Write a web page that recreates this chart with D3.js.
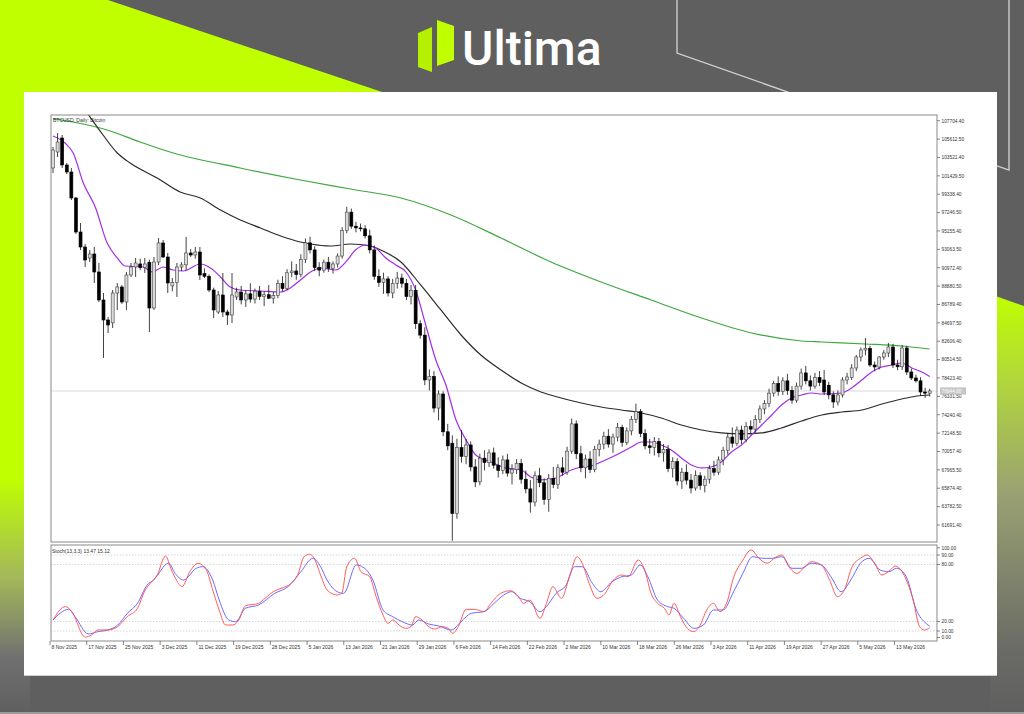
<!DOCTYPE html>
<html>
<head>
<meta charset="utf-8">
<title>BTCUSD Daily - Ultima</title>
<script src="https://d3js.org/d3.v7.min.js"></script>
<style>
body { margin: 0; background: #5f5f5f; }
svg { display: block; }
.mt text { font-family: 'Liberation Sans', Arial, sans-serif; fill: #333; }
</style>
</head>
<body>
<div id="viz"></div>
<script>
'use strict';

// x axis labels and the bar each one sits on
const xLabels = ['8 Nov 2025', '17 Nov 2025', '25 Nov 2025', '3 Dec 2025', '11 Dec 2025', '19 Dec 2025',
  '28 Dec 2025', '5 Jan 2026', '13 Jan 2026', '21 Jan 2026', '29 Jan 2026', '6 Feb 2026', '14 Feb 2026',
  '22 Feb 2026', '2 Mar 2026', '10 Mar 2026', '18 Mar 2026', '26 Mar 2026', '3 Apr 2026', '11 Apr 2026',
  '19 Apr 2026', '27 Apr 2026', '5 May 2026', '13 May 2026'];
const xLabelBars = [0, 8, 16, 24, 32, 40, 48, 56, 64, 72, 80, 88, 96, 104, 112, 120, 128, 136, 144, 152, 160, 168, 176, 184];

const priceTicks = [107704.40, 105612.50, 103521.40, 101429.50, 99338.40, 97246.50, 95155.40, 93063.50,
  90972.40, 88880.50, 86789.40, 84697.50, 82606.40, 80514.50, 78423.40, 76331.50, 74240.40, 72148.50,
  70057.40, 67965.50, 65874.40, 63782.50, 61691.40];
const stochTicks = [100, 90, 80, 20, 10, 0];
const stochLevels = [90, 80, 20, 10];
const lastPrice = 76944.6;

// daily candles, bar 0 = 8 Nov 2025
const opens = [102322,104142,105736,102663,101866,98908,95038,93331,92080,92535,90486,87300,85024,84700,88096,88780,87072,90145,91055,91400,
  91000,91600,86390,91625,93787,92193,88900,89300,91055,91300,92649,92420,92762,90300,90000,88438,85934,87869,85934,85593,
  87641,88210,87300,88000,87400,88300,87700,87900,87500,87800,89200,88600,90400,90600,90200,91900,93800,93000,91000,90700,
  91600,90900,91400,92300,95200,97300,95700,95500,95400,94600,93000,90000,89300,89700,88100,89200,89800,89200,87700,88400,
  84600,83300,78200,78600,75000,76600,72300,71000,63000,70500,69500,70800,68300,66600,69300,68800,69900,68500,67900,69100,
  67600,68000,68700,66900,65800,64300,67300,66500,64600,67000,66300,68200,67700,70100,73200,69800,68200,69200,68000,70300,
  70900,71800,70900,71700,72800,71100,72400,73700,74600,72100,70700,70500,71200,69900,70300,68100,68900,66700,67700,66800,
  65900,67300,66200,66900,68100,67700,69100,70200,71700,71000,72500,71400,72900,72600,73700,74900,75500,76700,77800,76900,
  78100,77000,75900,77500,79000,78100,77500,78500,78196,77600,76500,75690,76490,78196,78500,79560,80813,81610,81800,79903,
  79675,80813,81269,81950,79903,79700,81838,79106,78424,78100,76830,76700];
const highs = [104711,106305,106077,102891,102322,99021,96062,93673,92990,93331,91510,88096,85365,88438,89235,89007,90486,91510,92080,92000,
  92080,91900,92193,94356,94128,92649,89800,91510,91600,94470,93100,93331,93331,90900,90200,88700,88300,90373,86200,90373,
  88700,88900,88400,89200,88600,88900,88300,89000,88200,89600,90000,90800,91700,91400,92500,94300,94500,93400,91600,91900,
  92200,91700,92600,95600,97900,97700,96200,96000,95800,95300,93500,90800,90400,90000,89700,90500,90300,89700,89000,89000,
  85000,84200,79400,79200,77000,76900,73200,71900,71500,72500,71500,71200,69200,69800,70200,70300,70500,69400,69600,69800,
  68600,69200,69200,67900,66800,67800,68200,67000,67500,68300,68600,69400,70600,73800,73600,70700,69700,70100,70700,71400,
  72300,72600,72100,73300,73100,72800,74100,75500,74900,72600,71500,71700,71600,70900,70800,69400,69300,68200,68600,67500,
  67900,67700,67300,68500,69000,69500,70600,72100,72800,72900,73000,73400,73600,74200,75300,75900,77200,78100,78600,78500,
  78900,77500,77900,79500,79800,78700,79000,79200,79334,78000,76900,77000,78500,79000,80000,81040,81900,82976,82100,80300,
  80900,81600,82406,82300,80500,82179,82100,79500,78800,78500,77300,77200];
const lows = [101753,103573,102322,101639,98680,94811,92990,91055,91625,89235,87072,80700,83546,84114,86162,86845,86162,89917,89917,90700,
  90373,83658,86162,91283,92080,88096,88300,87641,90600,90714,92200,92000,89576,89800,88200,85252,85700,85365,84455,84682,
  87300,86800,86500,87000,86900,87300,86600,87400,86900,87500,88300,88400,89900,89600,89900,91500,92600,90600,90000,90400,
  90500,90300,91000,92000,94900,95400,95000,95100,94300,92600,89600,88800,88000,87700,87500,88600,88700,87300,86800,84000,
  82900,77600,77000,74500,73600,71800,70200,59900,62400,68800,68600,67800,66000,66200,67900,68300,68100,67100,67500,67200,
  66300,67500,66400,65300,63100,63800,66000,64000,63200,65900,65800,67300,67400,69800,69200,67700,67000,67600,67700,69500,
  70300,70500,69900,71200,70600,70800,71900,73300,71700,70300,69800,69600,69400,68900,67700,67100,66200,65800,66300,65300,
  65600,65700,65400,66400,67300,67400,68500,69700,70500,70700,70900,71100,72000,72200,73300,74300,75100,76300,76400,76500,
  76500,75500,75600,77100,77700,77000,77200,77500,76489,76000,75000,75300,76200,77700,78200,79200,80300,81000,79675,79200,
  79400,80500,80800,79560,79300,79334,78765,78196,77900,76376,76150,76300];
const closes = [104370,105280,102663,101866,98908,95038,93331,91852,92535,90486,87300,85024,84455,88096,88780,87072,90145,91055,91510,91000,
  91400,86390,91625,93787,92193,89235,89300,91055,91300,92649,92420,92762,90145,90000,88438,86162,87869,85934,85593,87869,
  88210,87300,88000,87400,88300,87700,87900,87500,87800,89200,88600,90400,90600,90200,91900,93800,93000,91000,90700,91600,
  90900,91400,92300,95200,97300,95700,95500,95400,94600,93000,90000,89300,89700,88100,89200,89800,89200,87700,88400,84600,
  83300,78200,78600,75000,76600,72300,70700,63000,70500,69500,70800,68300,66600,69300,68800,69900,68500,67900,69100,67600,
  68000,68700,66900,65800,64300,67300,66500,64600,67000,66300,68200,67700,70100,73200,69800,68200,69200,68000,70300,70900,
  71800,70900,71700,72800,71100,72400,73700,74600,72100,70700,70500,71200,69900,70300,68100,68900,66700,67700,66800,65900,
  67300,66200,66900,68100,67700,69100,70200,71700,71000,72500,71400,72900,72600,73700,74900,75500,76700,77800,76900,78100,
  77000,75900,77500,79000,78100,77500,78500,77900,76830,76500,75690,76490,78196,78537,79560,80813,81610,81800,79903,79675,
  80813,81269,81950,79903,79700,81838,79106,78424,78100,76830,76700,76944];

// moving averages: [bar, price]
const maFast = [[0,105963],[2.6,105166],[4.4,104029],[6.6,100615],[9.2,97883],[11.8,93787],[14,92080],[15.7,91169],[19.7,91055],
  [21.6,90486],[24,91055],[26.2,90714],[28.4,90600],[32.1,91397],[34.3,90942],[36.5,89917],[38.6,88779],[40.8,88438],[45.2,88324],
  [49.6,88210],[51.7,88666],[53.9,89576],[56.1,90486],[58.3,90942],[61.6,90714],[63.8,91630],[65.9,92990],[68.1,93559],[70.3,93218],
  [72.5,92080],[74.7,91283],[76.9,90486],[79,88438],[81.2,84455],[83.4,80472],[85.6,77627],[87.8,73644],[90,71368],[92.1,69661],
  [95.4,68864],[98.7,68182],[102,67954],[104.1,67157],[106.3,66816],[109.6,67044],[112.9,67954],[115.1,68295],[117.2,68409],
  [119.4,68864],[122.7,69661],[126,70571],[128.2,71140],[130.3,71140],[132.5,70799],[134.7,70230],[136.9,69320],[139.1,68523],
  [141.3,68182],[143.4,68295],[145.6,68864],[147.8,70002],[150,70799],[152.2,71937],[154.4,73075],[156.6,74213],[158.7,75351],
  [160.9,76148],[163.1,76489],[165.3,76717],[167.5,76600],[171.8,76717],[174,77286],[176.2,78196],[178.4,79106],[180.6,79675],
  [182.8,79903],[184.9,80130],[187.1,79562],[189.3,79106],[191,78600]];
const maMid = [[7,108922],[10.9,106077],[14,104029],[16.8,102891],[22.7,101184],[27.7,99590],[32.1,98908],[36.5,97542],[40.8,96404],
  [45.2,95494],[49.6,94583],[53.9,93900],[56.1,93673],[60.5,93445],[64.8,93673],[69.2,93445],[71.4,92990],[75.8,91625],[80.1,89007],
  [84.5,86162],[88.9,83317],[93.2,81041],[97.6,79334],[102,77855],[106.3,76830],[110.7,76148],[115.1,75579],[119.4,75124],
  [123.8,74782],[128.2,74441],[132.5,73872],[136.9,73075],[141.3,72506],[145.6,72165],[150,72051],[154.4,72165],[158.7,72734],
  [163.1,73530],[167.5,74213],[171.8,74554],[176.2,74782],[180.6,75465],[184.9,76034],[188.2,76375],[191,76489]];
const maSlow = [[0,107950],[4.4,107556],[11.8,106646],[19,105280],[26.2,104029],[40.8,102322],[53.9,100956],[64.8,99932],
  [75.8,98908],[86.7,96973],[97.6,94356],[108.5,91625],[119.4,89349],[130.3,87300],[141.3,85252],[152.2,83545],[163.1,82634],
  [167.5,82520],[176.9,82293],[184.9,82065],[191,81724]];

// stochastic (13,3,3): [bar, value]
const stochMain = [[0,21.6],[2.7,35.7],[4.1,30.4],[7,3.6],[8.4,5.8],[9.8,11.1],[12,11.1],[14.1,14.6],[16.2,25.1],[18.4,33.9],
  [20.1,53.2],[21.2,60.2],[22.7,68.9],[24.5,88.9],[25.8,74.2],[26.9,63.6],[28.1,56.7],[29.8,72.4],[31.6,81.3],[33.4,74.2],
  [34.8,53.2],[36.2,32.1],[37.6,16.3],[39.1,16.3],[40.5,21.6],[41.9,36.5],[44.8,39.1],[46.2,44.4],[48,51.4],[49.7,54.9],
  [51.9,60.2],[53.3,68.9],[54.7,88.2],[55.9,90.8],[56.9,86.5],[58.3,68.9],[59.7,53.2],[61.9,47.9],[62.9,49.6],[64,77.7],
  [65.7,86.5],[67.1,72.4],[69,67.1],[70.4,46.1],[71.9,26.8],[73,18],[74,21.6],[75.4,16.3],[76.8,12.8],[78,14.6],[79,25.1],
  [80.4,21.6],[81.8,14.6],[83.3,12.1],[84.7,14.6],[86.1,12.8],[87.1,7.6],[88.3,14.6],[90,32.8],[91.8,32.8],[93.9,30.4],
  [95.4,39.1],[97.5,49.6],[99.7,52.4],[101.4,46.1],[102.5,39.1],[103.9,42.6],[106.1,23.3],[107.5,39.1],[108.9,56.7],[110.8,44.4],
  [112.5,67.1],[114.2,88.2],[115.3,81.3],[116.8,60.2],[118.5,44.4],[120.3,49.6],[121.8,61.9],[123.9,68.9],[125.3,67.1],
  [127.5,84.7],[128.9,74.2],[130.3,49.6],[131.7,39.1],[133.2,33.9],[134.2,26.8],[135.3,39.1],[136.7,25.1],[138.2,12.8],
  [139.6,9.3],[141,16.3],[142.4,32.1],[143.9,39.1],[145.3,30.4],[147,42.6],[148.1,63.6],[150.3,84.7],[152.1,95.3],[153.8,86.5],
  [155.6,81.3],[157.4,87.5],[158.8,90],[160.3,77.7],[162.1,70.7],[163.8,77.7],[165.2,83],[167.4,79.4],[169.2,63.6],[170.9,46.1],
  [172.4,53.2],[174.1,77.7],[175.9,86.5],[177.4,90],[178.8,83],[180.6,68.9],[182.4,74.2],[183.5,78.4],[185.2,70.7],[187.4,42.6],
  [188.8,14.6],[189.8,11.1],[191,13.47]];
const stochSignal = [[0,21.6],[3.4,32.8],[4.8,25.1],[7.7,6.9],[9.8,9.3],[12,11.1],[14.1,16.3],[16.2,28.6],[18.4,39.1],[20.5,58.4],
  [21.9,63.6],[25.2,81.3],[26.6,70.7],[28.4,63.6],[31.2,76],[32.6,77.7],[34.8,63.6],[36.2,42.6],[38.3,21.6],[39.8,19.8],
  [41.9,33.9],[44.8,37.4],[48.3,49.6],[51.2,56.7],[54,72.4],[56.6,86.5],[58.3,77.7],[59.7,63.6],[61.9,51.4],[63.3,49.6],
  [66.1,79.5],[68.3,74.2],[69.7,63.6],[71.9,32.1],[74,25.1],[76.1,19.8],[78.3,16.3],[79.7,21.6],[81.8,17.4],[84,15.3],
  [86.8,11.1],[88.9,19.8],[91.1,28.6],[93.9,30.4],[96.1,39.1],[98.2,47.9],[99.9,51.4],[101.8,44.4],[103.9,40.8],[106.1,30.4],
  [107.5,35.7],[109.6,49.6],[111.8,58.4],[113.6,77.7],[115.3,77.7],[117.5,60.2],[119.3,51.4],[121.8,61.9],[123.9,67.1],
  [126,68.9],[127.9,79.5],[129.6,67.1],[131.7,42.6],[133.9,35.7],[135.3,33.9],[137.4,23.3],[139.6,12.8],[141.7,16.3],
  [143.9,32.1],[146,32.1],[148.1,49.6],[150.3,70.7],[152.4,88.2],[154.6,86.5],[156.7,86.5],[158.8,88.2],[161,76],[163.1,76],
  [165.2,81.3],[167.4,79.5],[169.5,67.1],[171.7,51.4],[173.8,63.6],[175.9,81.3],[177.8,86.5],[180.2,74.2],[182.1,72.4],
  [183.8,76],[185.9,67.1],[188.1,32.1],[190.2,18],[191,15.12]];

const W = 1024, H = 714;
const lime = '#bfff00';
const grey = '#5f5f5f';

const svg = d3.select('#viz').append('svg')
  .attr('width', W)
  .attr('height', H);

// ---- page decoration ----
const defs = svg.append('defs');
const gl = defs.append('linearGradient').attr('id', 'leftFade')
  .attr('x1', 0).attr('y1', 0).attr('x2', 0).attr('y2', 1);
gl.append('stop').attr('offset', '0%').attr('stop-color', lime);
gl.append('stop').attr('offset', '62%').attr('stop-color', lime);
gl.append('stop').attr('offset', '78%').attr('stop-color', '#a4b85a');
gl.append('stop').attr('offset', '91%').attr('stop-color', '#707070');
gl.append('stop').attr('offset', '100%').attr('stop-color', grey);
const gr = defs.append('linearGradient').attr('id', 'rightFade')
  .attr('x1', 0).attr('y1', 0).attr('x2', 0).attr('y2', 1);
gr.append('stop').attr('offset', '0%').attr('stop-color', lime);
gr.append('stop').attr('offset', '20%').attr('stop-color', '#b2d83a');
gr.append('stop').attr('offset', '47%').attr('stop-color', '#9aa272');
gr.append('stop').attr('offset', '85%').attr('stop-color', '#6a6a66');
gr.append('stop').attr('offset', '100%').attr('stop-color', grey);

svg.append('rect').attr('width', W).attr('height', H).attr('fill', grey);
svg.append('polygon').attr('points', '0,0 108,0 400,98 0,98').attr('fill', lime);
svg.append('rect').attr('x', 0).attr('y', 92).attr('width', 30).attr('height', H - 92).attr('fill', 'url(#leftFade)');
svg.append('polygon').attr('points', '990,294 1024,306 1024,714 990,714').attr('fill', 'url(#rightFade)');
svg.append('polyline').attr('points', '677,0 677,53 1009,170 1009,0')
  .attr('fill', 'none').attr('stroke', '#d4d4d4').attr('stroke-width', 1.3);
svg.append('rect').attr('x', 0).attr('y', 712).attr('width', W).attr('height', 2).attr('fill', '#9a9a9a');

// logo
svg.append('polygon').attr('points', '418,33 432,27 432,72 418,67').attr('fill', '#b4f000');
svg.append('polygon').attr('points', '437,20 454,26 454,60 437,66').attr('fill', lime);
svg.append('text').attr('x', 462).attr('y', 65)
  .attr('font-family', 'Roboto, sans-serif').attr('font-weight', 500).attr('font-size', 48)
  .attr('fill', '#fff').text('Ultima');

svg.append('rect').attr('x', 24).attr('y', 92).attr('width', 973).attr('height', 584).attr('fill', '#fff');
svg.append('line').attr('x1', 24).attr('x2', 997).attr('y1', 675.5).attr('y2', 675.5)
  .attr('stroke', '#cfcfcf').attr('stroke-width', 1);

// ---- chart ----
const pL = 51, pR = 937, pT = 115, mainB = 542, stT = 545, stB = 641;
const g = svg.append('g').attr('class', 'mt');

const x = d3.scaleLinear().domain([0, 191]).range([53, 929.7]);
const y = d3.scaleLinear().domain([61691.4, 107704.4]).range([525, 120.7]);
const ys = d3.scaleLinear().domain([0, 100]).range([640.5, 545.5]);

defs.append('clipPath').attr('id', 'clipMain').append('rect')
  .attr('x', pL).attr('y', pT).attr('width', pR - pL).attr('height', mainB - pT);
defs.append('clipPath').attr('id', 'clipStoch').append('rect')
  .attr('x', pL).attr('y', stT).attr('width', pR - pL).attr('height', stB - stT);

// last price line
g.append('line').attr('x1', pL).attr('x2', pR)
  .attr('y1', y(lastPrice)).attr('y2', y(lastPrice))
  .attr('stroke', '#cfcfcf').attr('stroke-width', 0.8);

const main = g.append('g').attr('clip-path', 'url(#clipMain)');

const lineMA = d3.line().x(d => x(d[0])).y(d => y(d[1])).curve(d3.curveMonotoneX);
main.append('path').datum(maSlow).attr('d', lineMA)
  .attr('fill', 'none').attr('stroke', '#3ea83e').attr('stroke-width', 1.2);
main.append('path').datum(maMid).attr('d', lineMA)
  .attr('fill', 'none').attr('stroke', '#2b2b2b').attr('stroke-width', 1.2);
main.append('path').datum(maFast).attr('d', lineMA)
  .attr('fill', 'none').attr('stroke', '#a22ee6').attr('stroke-width', 1.2);

const bars = d3.range(opens.length);
main.selectAll('line.wick').data(bars).enter().append('line')
  .attr('class', 'wick')
  .attr('x1', i => x(i)).attr('x2', i => x(i))
  .attr('y1', i => y(highs[i])).attr('y2', i => y(lows[i]))
  .attr('stroke', '#111').attr('stroke-width', 0.8);
main.selectAll('rect.body').data(bars).enter().append('rect')
  .attr('class', 'body')
  .attr('x', i => x(i) - 1.5)
  .attr('width', 3)
  .attr('y', i => y(Math.max(opens[i], closes[i])))
  .attr('height', i => Math.max(0.8, Math.abs(y(opens[i]) - y(closes[i]))))
  .attr('fill', i => closes[i] >= opens[i] ? '#d9d9d9' : '#000')
  .attr('stroke', i => closes[i] >= opens[i] ? '#444' : '#000')
  .attr('stroke-width', 0.6);

g.append('text').attr('x', 53).attr('y', 122).attr('font-size', 5).text('BTCUSD, Daily: Bitcoin');

// stochastic panel
const stoch = g.append('g').attr('clip-path', 'url(#clipStoch)');
stoch.selectAll('line.lvl').data(stochLevels).enter().append('line')
  .attr('class', 'lvl')
  .attr('x1', pL).attr('x2', pR)
  .attr('y1', d => ys(d)).attr('y2', d => ys(d))
  .attr('stroke', '#c4c4c4').attr('stroke-width', 0.7).attr('stroke-dasharray', '1.5,1.5');
const lineSt = d3.line().x(d => x(d[0])).y(d => ys(d[1])).curve(d3.curveMonotoneX);
stoch.append('path').datum(stochSignal).attr('d', lineSt)
  .attr('fill', 'none').attr('stroke', '#5a5aff').attr('stroke-width', 0.9);
stoch.append('path').datum(stochMain).attr('d', lineSt)
  .attr('fill', 'none').attr('stroke', '#ff4a4a').attr('stroke-width', 0.9);
g.append('text').attr('x', 52).attr('y', 553).attr('font-size', 5).text('Stoch(13,3,3) 13.47 15.12');

// frame
const frame = g.append('g').attr('stroke', '#8a8a8a').attr('stroke-width', 1).attr('fill', 'none');
frame.append('rect').attr('x', pL).attr('y', pT).attr('width', pR - pL).attr('height', mainB - pT);
frame.append('rect').attr('x', pL).attr('y', stT).attr('width', pR - pL).attr('height', stB - stT);

// price axis
const pAxis = g.append('g');
pAxis.selectAll('line').data(priceTicks).enter().append('line')
  .attr('x1', pR).attr('x2', pR + 3)
  .attr('y1', d => y(d)).attr('y2', d => y(d))
  .attr('stroke', '#555').attr('stroke-width', 0.7);
pAxis.selectAll('text').data(priceTicks).enter().append('text')
  .attr('x', pR + 4.5).attr('y', d => y(d) + 1.8)
  .attr('font-size', 4.8).text(d => d.toFixed(2));

g.append('rect').attr('x', pR + 3).attr('y', y(lastPrice) - 3.6).attr('width', 26).attr('height', 7.2).attr('fill', '#c6c6c6');
g.append('text').attr('x', pR + 4.5).attr('y', y(lastPrice) + 1.8).attr('font-size', 4.8)
  .style('fill', '#fff').text(lastPrice.toFixed(2));

// stochastic axis (end labels nudged inside the panel like the terminal does)
const stLabelY = v => v === 100 ? ys(v) + 2.3 : (v === 0 ? ys(v) - 3 : ys(v));
const sAxis = g.append('g');
sAxis.selectAll('line').data(stochTicks).enter().append('line')
  .attr('x1', pR).attr('x2', pR + 3)
  .attr('y1', stLabelY).attr('y2', stLabelY)
  .attr('stroke', '#555').attr('stroke-width', 0.7);
sAxis.selectAll('text').data(stochTicks).enter().append('text')
  .attr('x', pR + 4.5).attr('y', d => stLabelY(d) + 1.8)
  .attr('font-size', 4.8).text(d => d.toFixed(2));

// time axis
const tAxis = g.append('g');
tAxis.selectAll('line').data(xLabelBars).enter().append('line')
  .attr('x1', i => x(i) - 3).attr('x2', i => x(i) - 3)
  .attr('y1', stB).attr('y2', stB + 4)
  .attr('stroke', '#555').attr('stroke-width', 0.7);
tAxis.selectAll('text').data(xLabelBars).enter().append('text')
  .attr('x', i => x(i) - 1.5).attr('y', stB + 7.5)
  .attr('font-size', 5).text((i, k) => xLabels[k]);
</script>
</body>
</html>
